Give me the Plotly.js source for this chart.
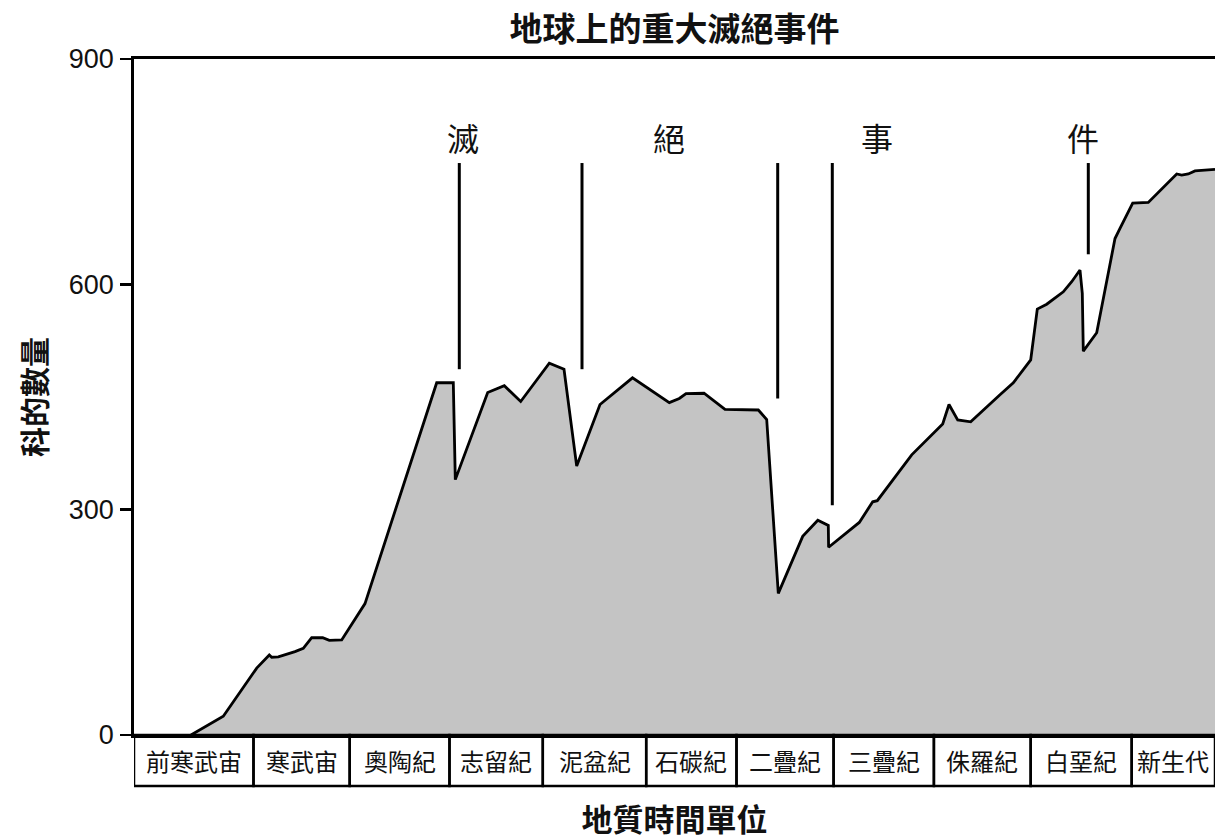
<!DOCTYPE html>
<html>
<head>
<meta charset="utf-8">
<script src="https://cdn.plot.ly/plotly-3.0.1.min.js"></script>
<style>html,body{margin:0;padding:0;background:#fff;}#chart{width:1215px;height:840px;}</style>
</head>
<body>
<div id="chart"></div>
<script>
// Time index (arbitrary units along the geological time strip) and number of families
const timeIndex = [57, 89.3, 122.7, 135.3, 137.7, 144.3, 161, 169.3, 177.7, 188.7, 195.3, 207.7, 231,
  302.7, 319.3, 321.3, 353.7, 370.3, 386.7, 415.3, 430, 442.7, 466, 498.5, 535.3, 545.3, 552, 570,
  591, 624.3, 632.7, 644.3, 668.7, 683.8, 694.3, 694.6, 725.3, 738.7, 743.3, 777.7, 808.7, 815,
  823.7, 836.7, 866, 879.3, 896.7, 903.3, 912.7, 929.3, 937.7, 946, 948.3, 949.3, 962.7, 981, 986,
  998.7, 1014.3, 1042.7, 1047.7, 1054.3, 1061, 1081];
const families = [0, 25, 89, 106.5, 103.5, 104, 111, 115.5, 129.5, 129.5, 126, 126.5, 175,
  469, 469, 340, 456, 465, 444, 495, 487, 358, 440, 475.5, 442.5, 448, 454.5, 455,
  433.5, 432.7, 420, 188.5, 264.5, 286, 279, 250, 283, 310.5, 312, 373, 414, 440,
  419.5, 417, 453, 469, 499.3, 567, 573.5, 590, 603.5, 619, 588, 511, 535.5, 661, 674.5,
  708, 709, 747, 745.5, 747, 751, 753];

// Geological periods and their boundaries on the time index
const periods = ["前寒武宙", "寒武宙", "奧陶紀", "志留紀", "泥盆紀", "石碳紀", "二疊紀", "三疊紀", "侏羅紀", "白堊紀", "新生代"];
const periodBounds = [0, 119.5, 215.7, 315.5, 408.8, 512.2, 602.5, 699.6, 799.9, 896.7, 997.7, 1081];

// Mass extinction markers
const eventX = [325.3, 448, 643.7, 698.3, 954.3];
const eventTop = [761.5, 761.5, 761.5, 761.5, 761.5];
const eventBottom = [487, 487, 448, 306, 640];
const headingChars = ["滅", "絕", "事", "件"];
const headingX = [328.6, 535, 742.7, 949];
const headingY = 796;

const yTicks = [0, 300, 600, 900];

const CJK = '"Noto Sans CJK TC", "Noto Sans CJK SC", sans-serif';
const LATIN = '"Liberation Sans", Arial, sans-serif';

const plotH = 676;
const boxH = 51 / plotH;

const shapes = [];
const annotations = [];
for (let i = 0; i < periods.length; i++) {
  shapes.push({type: 'rect', xref: 'x', yref: 'paper', x0: periodBounds[i], x1: periodBounds[i + 1],
    y0: -boxH, y1: 0, line: {color: '#000', width: 2.5}, fillcolor: 'rgba(0,0,0,0)', layer: 'above'});
  annotations.push({xref: 'x', yref: 'paper', x: (periodBounds[i] + periodBounds[i + 1]) / 2,
    y: -boxH / 2, text: periods[i], showarrow: false, xanchor: 'center', yanchor: 'middle',
    font: {family: CJK, size: 24, color: '#111'}});
}
for (let i = 0; i < eventX.length; i++) {
  shapes.push({type: 'line', xref: 'x', yref: 'y', x0: eventX[i], x1: eventX[i], y0: eventBottom[i], y1: eventTop[i],
    line: {color: '#000', width: 3}});
}
for (let i = 0; i < headingChars.length; i++) {
  annotations.push({xref: 'x', yref: 'y', x: headingX[i], y: headingY, text: headingChars[i], showarrow: false,
    xanchor: 'center', yanchor: 'middle', font: {family: CJK, size: 32, color: '#111'}});
}

const trace = {
  x: timeIndex, y: families, type: 'scatter', mode: 'lines', fill: 'tozeroy',
  fillcolor: '#c4c4c4', line: {color: '#000', width: 2.8}, hoverinfo: 'x+y'
};

const layout = {
  width: 1215, height: 840,
  margin: {l: 134, r: 0, t: 59, b: 105, pad: 0},
  paper_bgcolor: '#fff', plot_bgcolor: '#fff',
  showlegend: false,
  title: {text: '<b>地球上的重大滅絕事件</b>', x: 0.5, xref: 'paper', y: 1 - 29 / 840, yref: 'container',
    xanchor: 'center', yanchor: 'middle', font: {family: CJK, size: 33, color: '#111'}},
  xaxis: {range: [0, 1081], showgrid: false, zeroline: false, showline: true, mirror: true,
    linecolor: '#000', linewidth: 2.8, ticks: '', showticklabels: false, fixedrange: true,
    title: {text: '<b>地質時間單位</b>', standoff: 78, font: {family: CJK, size: 31, color: '#111'}}},
  yaxis: {range: [0, 900], tickvals: yTicks, ticktext: yTicks.map(String), showgrid: false, zeroline: false,
    showline: true, linecolor: '#000', linewidth: 2.8, ticks: 'outside', ticklen: 11, tickwidth: 2.8,
    tickcolor: '#000', ticklabelstandoff: 1, tickfont: {family: LATIN, size: 27, color: '#111'}, fixedrange: true,
    title: {text: '<b>科的數量</b>', standoff: 14, font: {family: CJK, size: 30, color: '#111'}}},
  shapes: shapes,
  annotations: annotations
};

Plotly.newPlot('chart', [trace], layout, {displayModeBar: false, staticPlot: true});
</script>
</body>
</html>
